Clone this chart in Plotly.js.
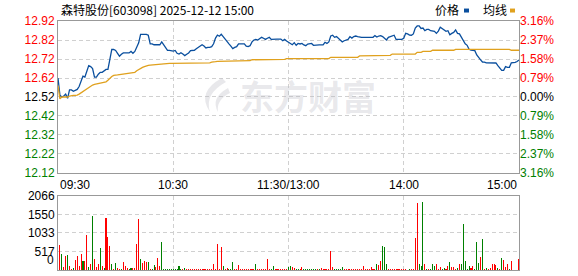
<!DOCTYPE html>
<html><head><meta charset="utf-8">
<script src="https://cdn.plot.ly/plotly-3.0.1.min.js"></script>
<style>html,body{margin:0;padding:0;background:#fff;overflow:hidden}#chart{width:578px;height:276px}</style>
</head><body><div id="chart"></div>
<script>
const stockTitle = '森特股份[603098] 2025-12-12 15:00';
const legendNames = ['价格', '均线'];
const preClose = 12.52;
const priceTicks = [12.92,12.82,12.72,12.62,12.52,12.42,12.32,12.22,12.12];
const pctLabels = ['3.16%','2.37%','1.58%','0.79%','0.00%','0.79%','1.58%','2.37%','3.16%'];
const volTicks = [0,517,1033,1550,2066];
const timeLabels = ['09:30','10:30','11:30/13:00','14:00','15:00'];
const timePos = [0,60,120,180,240];

const price = [
12.62,12.53,12.52,12.525,12.535,12.513,12.557,12.557,12.55,12.557,
12.56,12.575,12.60,12.63,12.625,12.65,12.685,12.68,12.67,12.625,
12.625,12.64,12.65,12.65,12.66,12.665,12.665,12.72,12.77,12.77,
12.765,12.75,12.735,12.745,12.752,12.752,12.752,12.752,12.76,12.75,
12.76,12.78,12.805,12.85,12.85,12.85,12.85,12.845,12.80,12.80,
12.795,12.795,12.795,12.795,12.81,12.795,12.78,12.765,12.765,12.762,
12.762,12.765,12.75,12.746,12.753,12.746,12.738,12.745,12.752,12.764,
12.766,12.766,12.774,12.781,12.788,12.795,12.788,12.778,12.781,12.781,
12.785,12.80,12.83,12.846,12.84,12.85,12.838,12.823,12.813,12.80,
12.788,12.775,12.781,12.785,12.80,12.80,12.80,12.80,12.788,12.785,
12.79,12.81,12.82,12.823,12.82,12.827,12.834,12.829,12.823,12.829,
12.834,12.823,12.825,12.825,12.825,12.825,12.825,12.816,12.823,12.815,
12.81,12.802,12.795,12.806,12.792,12.802,12.799,12.802,12.794,12.79,
12.799,12.799,12.802,12.792,12.794,12.794,12.794,12.794,12.794,12.808,
12.802,12.81,12.841,12.845,12.834,12.838,12.829,12.82,12.81,12.816,
12.82,12.823,12.838,12.83,12.838,12.841,12.838,12.834,12.834,12.834,
12.834,12.834,12.834,12.834,12.834,12.843,12.836,12.841,12.843,12.838,
12.829,12.82,12.834,12.838,12.838,12.845,12.823,12.823,12.823,12.823,
12.829,12.855,12.852,12.846,12.845,12.852,12.883,12.894,12.894,12.881,
12.883,12.869,12.876,12.876,12.869,12.866,12.866,12.855,12.867,12.887,
12.881,12.876,12.866,12.869,12.848,12.855,12.86,12.873,12.855,12.852,
12.834,12.816,12.80,12.792,12.771,12.767,12.767,12.764,12.741,12.725,
12.715,12.704,12.704,12.70,12.70,12.70,12.70,12.70,12.699,12.685,
12.669,12.66,12.66,12.68,12.676,12.676,12.70,12.70,12.702,12.707,
12.715];

const avgPrice = [
12.58,12.51,12.52,12.52,12.52,12.52,12.525,12.529,12.529,12.529,
12.53,12.535,12.542,12.548,12.555,12.562,12.572,12.58,12.583,12.586,
12.588,12.59,12.592,12.594,12.598,12.60,12.608,12.62,12.628,12.634,
12.634,12.636,12.638,12.64,12.641,12.643,12.645,12.645,12.646,12.648,
12.65,12.658,12.665,12.672,12.676,12.68,12.685,12.687,12.688,12.689,
12.69,12.692,12.693,12.695,12.696,12.697,12.697,12.697,12.697,12.697,
12.697,12.697,12.697,12.697,12.697,12.697,12.697,12.697,12.697,12.697,
12.697,12.697,12.697,12.697,12.697,12.697,12.697,12.697,12.697,12.70,
12.703,12.703,12.706,12.708,12.708,12.711,12.711,12.711,12.711,12.711,
12.711,12.711,12.711,12.711,12.711,12.711,12.711,12.711,12.711,12.711,
12.711,12.716,12.716,12.716,12.716,12.716,12.716,12.716,12.716,12.716,
12.716,12.716,12.716,12.716,12.716,12.716,12.716,12.716,12.718,12.722,
12.722,12.722,12.722,12.722,12.722,12.722,12.722,12.722,12.722,12.722,
12.722,12.722,12.722,12.722,12.722,12.722,12.722,12.722,12.722,12.722,
12.722,12.722,12.729,12.729,12.729,12.729,12.729,12.729,12.729,12.729,
12.729,12.729,12.729,12.729,12.729,12.729,12.729,12.736,12.736,12.736,
12.736,12.736,12.736,12.736,12.736,12.736,12.736,12.736,12.736,12.739,
12.739,12.739,12.739,12.739,12.746,12.746,12.746,12.746,12.746,12.746,
12.746,12.746,12.746,12.746,12.746,12.746,12.746,12.755,12.755,12.755,
12.76,12.76,12.76,12.76,12.76,12.766,12.766,12.766,12.766,12.766,
12.766,12.766,12.766,12.766,12.766,12.766,12.766,12.771,12.771,12.771,
12.771,12.771,12.771,12.771,12.771,12.771,12.771,12.771,12.771,12.771,
12.771,12.771,12.771,12.771,12.771,12.771,12.771,12.771,12.771,12.771,
12.771,12.771,12.771,12.771,12.771,12.771,12.766,12.766,12.766,12.766,
12.766];

const volume = [
0,698,447,84,391,419,112,28,56,279,391,
112,447,251,251,977,84,168,1508,307,93,
168,614,112,65,1451,921,670,168,28,195,
56,28,28,223,112,56,28,56,56,56,
726,1424,307,205,251,223,223,28,28,140,
93,335,112,782,28,28,28,28,28,28,
28,28,112,28,28,56,28,28,28,28,
28,28,28,28,28,28,28,28,28,28,
168,28,726,28,642,112,28,56,28,28,
223,28,28,140,28,28,28,28,28,28,
28,28,168,28,28,28,28,28,307,28,
28,112,28,28,28,28,28,28,28,74,
112,93,56,37,28,28,84,28,28,28,
28,28,28,28,37,28,56,28,28,28,
28,530,84,28,28,28,28,84,28,28,
28,28,28,28,28,28,28,28,112,28,
28,28,84,28,28,168,149,251,670,642,
168,28,28,28,28,28,28,28,28,28,
28,0,28,28,28,893,1871,168,112,1898,
168,28,28,28,168,112,168,28,84,28,
56,28,112,223,84,84,37,56,168,168,
1284,251,28,112,56,112,28,782,195,363,
865,28,56,28,56,168,168,140,56,28,
335,279,84,168,28,251,0,0,0,307];

// 1 = up (red), 0 = down (green)
const volUp = [
1,
1,0,1,1,0,1,1,0,1,1,
1,1,0,1,1,0,1,0,1,1,
1,0,1,0,1,1,1,0,1,0,
1,1,0,1,1,1,0,0,1,1,
1,1,0,1,1,1,0,1,0,0,
1,1,1,0,0,0,0,0,0,0,
0,0,0,0,1,0,1,1,1,1,
1,1,1,1,1,1,1,1,1,1,
1,1,1,1,1,0,1,1,0,0,
0,1,1,1,1,1,1,1,1,1,
1,1,0,1,1,1,1,1,1,1,
0,0,1,1,1,1,1,1,1,0,
0,1,1,0,0,1,1,0,0,0,
0,0,0,0,1,0,1,1,1,1,
1,1,1,0,0,0,0,0,1,1,
1,1,1,1,1,1,1,1,1,1,
1,1,1,1,1,0,1,1,0,0,
0,1,1,1,1,1,1,1,1,1,
1,1,0,1,1,1,1,0,0,0,
1,0,1,0,0,0,1,1,1,0,
0,1,1,0,1,1,1,0,1,0,
0,0,0,0,1,1,0,0,0,1,
0,1,0,1,1,1,1,1,0,1,
0,1,1,1,0,1,1,1,1,1];

const minutes = price.map((_, i) => i);

const RED = '#ff0000', GREEN = '#008000', BLACK = '#000000';
const lvlColor = v => Math.abs(v - preClose) < 1e-9 ? BLACK : (v > preClose ? RED : GREEN);
const priceText = priceTicks.map(v => `<span style="color:${lvlColor(v)}">${v.toFixed(2)}</span>`);
const pctText = priceTicks.map((v, i) => `<span style="color:${lvlColor(v)}">${pctLabels[i]}</span>`);

const NUMFONT = 'Arial, Liberation Sans, sans-serif';
const CJK = 'Noto Sans CJK SC, sans-serif';
const GRID = '#d0d0d0';
const FRAME = '#999999';
const WM = 'rgba(185,185,195,0.33)';
const priceDomain = [0.3896, 1];
const volDomain = [0, 0.2972];

const traces = [
  {x: minutes, y: price, type: 'scatter', mode: 'lines', xaxis: 'x', yaxis: 'y',
   line: {color: '#0a4f9e', width: 1.3}, hoverinfo: 'skip'},
  {x: minutes, y: avgPrice, type: 'scatter', mode: 'lines', xaxis: 'x', yaxis: 'y2',
   line: {color: '#e0a11e', width: 1.3, shape: 'linear'}, hoverinfo: 'skip'},
  {x: minutes, y: volume, type: 'bar', xaxis: 'x2', yaxis: 'y3', width: 0.55,
   marker: {color: volUp.map(u => u ? RED : GREEN), line: {width: 0}}, hoverinfo: 'skip'}
];

const gridX = {range: [0, 240], tickvals: [60, 120, 180], showticklabels: false, ticks: '',
  showgrid: true, gridcolor: GRID, griddash: '4px,3px', gridwidth: 1, zeroline: false,
  showline: true, mirror: true, linecolor: FRAME, linewidth: 1, fixedrange: true};

const annotations = [
  {xref: 'paper', yref: 'paper', x: 0.002, y: 1.046, xanchor: 'left', yanchor: 'middle',
   text: stockTitle, showarrow: false, font: {family: CJK, size: 12, color: '#000'}},
  {xref: 'paper', yref: 'paper', x: 0.8134, y: 1.046, xanchor: 'left', yanchor: 'middle',
   text: legendNames[0], showarrow: false, font: {family: CJK, size: 12, color: '#000'}},
  {xref: 'paper', yref: 'paper', x: 0.9176, y: 1.046, xanchor: 'left', yanchor: 'middle',
   text: legendNames[1], showarrow: false, font: {family: CJK, size: 12, color: '#000'}},
  {xref: 'paper', yref: 'paper', x: 0.5423, y: 0.699, xanchor: 'center', yanchor: 'middle',
   text: '<b>东方财富</b>', showarrow: false, font: {family: CJK, size: 34, color: WM}},
  // volume scale base label "0"
  {xref: 'paper', yref: 'paper', x: -0.004, y: 0.005, xanchor: 'right', yanchor: 'bottom',
   text: '<span>0</span>', showarrow: false, font: {family: NUMFONT, size: 12, color: '#000'}}
];
timeLabels.forEach((t, i) => {
  annotations.push({xref: 'x', yref: 'paper', x: timePos[i], y: priceDomain[0], yshift: -3,
    xanchor: i === 0 ? 'left' : (i === timeLabels.length - 1 ? 'right' : 'center'), yanchor: 'top',
    text: t, showarrow: false, font: {family: NUMFONT, size: 12, color: '#000'}});
});

const shapes = [
  {type: 'rect', xref: 'paper', yref: 'paper', x0: 0.8807, x1: 0.8915, y0: 1.034, y1: 1.050,
   fillcolor: '#0a4f9e', line: {width: 0}},
  {type: 'rect', xref: 'paper', yref: 'paper', x0: 0.9805, x1: 0.9913, y0: 1.034, y1: 1.050,
   fillcolor: '#e0a11e', line: {width: 0}},
  {type: 'path', xref: 'paper', yref: 'paper', layer: 'above',
   path: 'M 0.3557 0.7711 Q 0.2993 0.7149 0.3297 0.6345 Q 0.3167 0.7068 0.3644 0.7550 Z',
   fillcolor: WM, line: {width: 0}},
  {type: 'path', xref: 'paper', yref: 'paper', layer: 'above',
   path: 'M 0.3688 0.7309 Q 0.3297 0.6908 0.3471 0.6345 Q 0.3427 0.6827 0.3731 0.7108 Z',
   fillcolor: WM, line: {width: 0}}
];

const layout = {
  width: 578, height: 276,
  margin: {l: 58, r: 59, t: 21, b: 6, pad: 0},
  paper_bgcolor: '#fff', plot_bgcolor: '#fff',
  showlegend: false,
  xaxis: Object.assign({}, gridX, {domain: [0, 1], anchor: 'y'}),
  xaxis2: Object.assign({}, gridX, {domain: [0, 1], anchor: 'y3'}),
  yaxis: {domain: priceDomain, anchor: 'x', range: [12.12, 12.92], tickvals: priceTicks, ticktext: priceText,
    ticks: '', showgrid: true, gridcolor: GRID, griddash: '4px,3px', zeroline: false,
    showline: true, mirror: true, linecolor: FRAME, linewidth: 1,
    tickfont: {family: NUMFONT, size: 12}, fixedrange: true},
  yaxis2: {overlaying: 'y', side: 'right', anchor: 'x', range: [12.12, 12.92], tickvals: priceTicks, ticktext: pctText,
    ticks: '', showgrid: false, zeroline: false, showline: false,
    tickfont: {family: NUMFONT, size: 12}, fixedrange: true},
  yaxis3: {domain: volDomain, anchor: 'x2', range: [0, 2066], tickvals: volTicks.slice(1), ticktext: volTicks.slice(1).map(String),
    ticks: '', showgrid: true, gridcolor: GRID, griddash: '4px,3px', zeroline: false,
    showline: true, mirror: true, linecolor: FRAME, linewidth: 1,
    tickfont: {family: NUMFONT, size: 12, color: '#000'}, fixedrange: true},
  bargap: 0,
  annotations: annotations,
  shapes: shapes
};

Plotly.newPlot('chart', traces, layout, {staticPlot: true, displayModeBar: false});
</script></body></html>
